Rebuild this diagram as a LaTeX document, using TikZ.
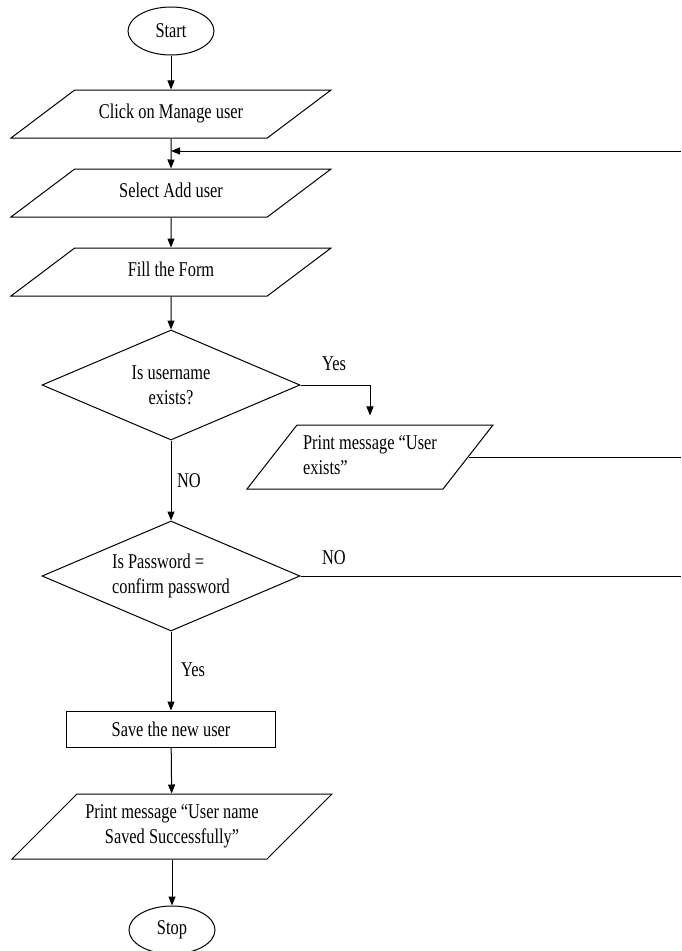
\documentclass[tikz,border=0pt]{standalone}
\usepackage{fontspec}
\setmainfont{Liberation Serif}[FakeStretch=0.78]
\usetikzlibrary{shapes.geometric,arrows.meta}

\begin{document}
\begin{tikzpicture}[x=1pt,y=-1pt,line width=1pt,
  every node/.style={font=\fontsize{21}{25}\selectfont},
  flow/.style={draw,-{Triangle[length=9pt,width=7pt]}},
  term/.style={draw,ellipse,minimum width=86pt,minimum height=48pt,inner sep=0pt},
  % parallelogram; its height comes from the text box plus inner ysep
  io/.style 2 args={draw,trapezium,trapezium stretches body,
    trapezium left angle=#1,trapezium right angle=#2,
    inner xsep=0pt,minimum width=320pt},
  oneline/.style={text height=14pt,text depth=5pt,inner ysep=14.5pt},
  twolines/.style={text height=39pt,text depth=5pt,inner ysep=#1},
  decision/.style={draw,diamond,aspect=2.35,inner sep=0pt,
    minimum width=258pt,minimum height=110pt},
  process/.style={draw,rectangle,minimum width=209pt,minimum height=36pt,inner sep=0pt},
  lbl/.style={inner sep=0pt}]

\useasboundingbox (0,0) rectangle (681,951);

% main column
\node[term] (start) at (171,31) {Start};
\node[io={37}{143},oneline] (click) at (171,114) {Click on Manage user};
\node[io={37}{143},oneline] (select) at (171,193) {Select Add user};
\node[io={37}{143},oneline] (fill) at (171,272) {Fill the Form};
\node[decision,align=center] (d1) at (171,385) {Is username\\exists?};
\node[io={52}{128},twolines=10pt,minimum width=246pt,align=left]
  (exists) at (370,457) {Print message “User\\exists”};
\node[decision,align=left] (d2) at (171,576) {Is Password =\\confirm password};
\node[process] (save) at (171,729) {Save the new user};
\node[io={45}{135},twolines=10.5pt,align=center]
  (saved) at (172,826.5) {Print message “User name\\Saved Successfully”};
\node[term] (stop) at (172,930) {Stop};

% return path on the right edge
\coordinate (back) at (681,151);

% connectors
\draw[flow] (start) -- (click);
\draw[flow] (click) -- (select);
\draw[flow] (back) -- (back -| click.south);
\draw[flow] (select) -- (fill);
\draw[flow] (fill) -- (d1);
\draw[flow,shorten >=9pt] (d1.east) -| (exists.north);
\draw (exists.east) -- (exists.east -| back);
\draw[flow] (d1) -- (d2);
\draw (d2.east) -- (d2.east -| back);
\draw[flow] (d2) -- (save);
\draw[flow] (save) -- (saved);
\draw[flow] (saved) -- (stop);

% branch labels
\node[lbl] (yes1) at (334,364) {Yes};
\node[lbl] (no1) at (189,481) {NO};
\node[lbl] (no2) at (334,558) {NO};
\node[lbl] (yes2) at (193,670) {Yes};
\end{tikzpicture}
\end{document}
